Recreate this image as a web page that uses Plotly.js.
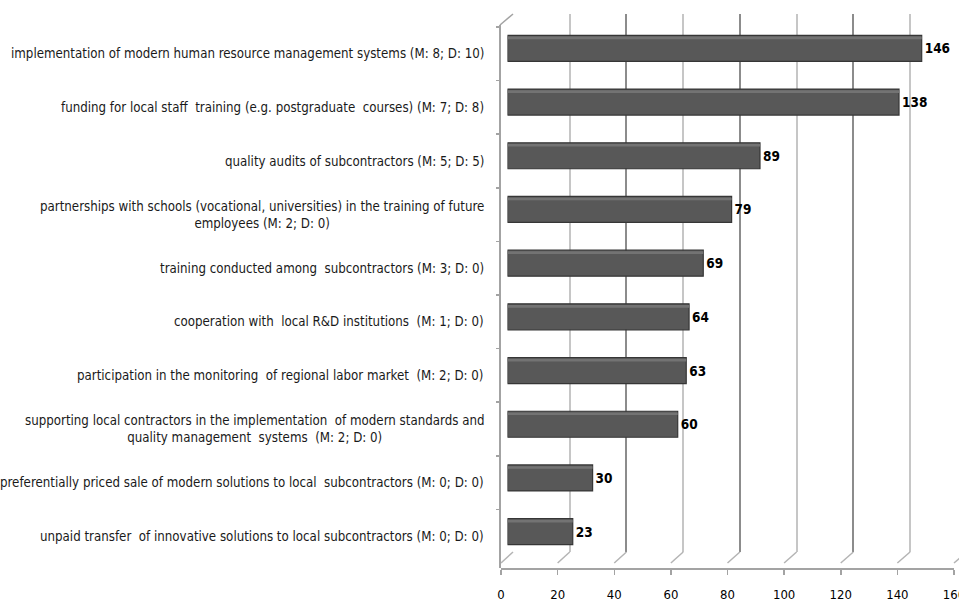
<!DOCTYPE html>
<html>
<head>
<meta charset="utf-8">
<script src="https://cdn.plot.ly/plotly-3.0.1.min.js"></script>
<style>
  html, body { margin: 0; padding: 0; background: #ffffff; }
  #chart { width: 959px; height: 606px; }
</style>
</head>
<body>
<div id="chart"></div>
<script>
// Activities (top to bottom) and number of indications for each
const categories = [
  'implementation of modern human resource management systems (M: 8; D: 10)',
  'funding for local staff  training (e.g. postgraduate  courses) (M: 7; D: 8)',
  'quality audits of subcontractors (M: 5; D: 5)',
  'partnerships with schools (vocational, universities) in the training of future<br>employees (M: 2; D: 0)',
  'training conducted among  subcontractors (M: 3; D: 0)',
  'cooperation with  local R&D institutions  (M: 1; D: 0)',
  'participation in the monitoring  of regional labor market  (M: 2; D: 0)',
  'supporting local contractors in the implementation  of modern standards and<br>quality management  systems  (M: 2; D: 0)',
  'preferentially priced sale of modern solutions to local  subcontractors (M: 0; D: 0)',
  'unpaid transfer  of innovative solutions to local subcontractors (M: 0; D: 0)'
];
const values = [146, 138, 89, 79, 69, 64, 63, 60, 30, 23];

const axisMax = 160;
const axisStep = 20;

// ---- page geometry (pixels) for the pseudo-3D box ----
const W = 959, H = 606;
const px = x => x / W;
const py = y => 1 - y / H;

const FRONT = { x0: 501, x1: 954, floor: 568, top: 25, wallX: 500 };
const BACK = { x0: 513, scale: 2.836, top: 14, floor: 552 };
const BARS = { x0: 507.5, scale: 2.837, top: 21.5, bottom: 558.5 };
const LABELS = { top: 27, bottom: 563, right: 486 };

const frontX = v => FRONT.x0 + v * (FRONT.x1 - FRONT.x0) / axisMax;
const backX = v => BACK.x0 + v * BACK.scale;

const FONT = 'DejaVu Sans Condensed, DejaVu Sans, sans-serif';
const WALL = '#a3a3a3';

// bar thickness as a share of one category slot, and its top bevel strip
const BAR_W = 0.484;
const BEVEL_W = 0.05;

const traces = [
  // back wall grid subplot
  { type: 'scatter', x: [], y: [], xaxis: 'x', yaxis: 'y',
    hoverinfo: 'skip', showlegend: false },
  // bars
  { type: 'bar', orientation: 'h', x: values, y: categories,
    xaxis: 'x2', yaxis: 'y2', width: BAR_W, offset: -BAR_W / 2,
    marker: { color: '#585858', line: { color: '#363636', width: 1.2 } },
    text: values.map(String), textposition: 'outside', cliponaxis: false,
    textfont: { family: FONT, size: 13.5, color: '#000000', weight: 'bold' },
    hoverinfo: 'skip', showlegend: false },
  // lighter top bevel of each bar
  { type: 'bar', orientation: 'h', x: values, y: categories,
    xaxis: 'x2', yaxis: 'y2', width: BEVEL_W, offset: -BAR_W / 2 + 0.022,
    marker: { color: '#737373', line: { width: 0 } },
    hoverinfo: 'skip', showlegend: false },
  // front axis / category positions
  { type: 'scatter', mode: 'markers', x: values, y: categories,
    xaxis: 'x3', yaxis: 'y3', marker: { opacity: 0, size: 1 },
    hoverinfo: 'skip', showlegend: false }
];

// floor lines running from the front axis ticks to the back wall
const shapes = [];
for (let v = 0; v <= axisMax; v += axisStep) {
  shapes.push({
    type: 'line', xref: 'paper', yref: 'paper',
    x0: px(frontX(v)), y0: py(FRONT.floor - 5),
    x1: px(backX(v)), y1: py(BACK.floor),
    line: { color: '#b4b4b4', width: 1.5 }
  });
}
// left side wall edges
shapes.push({
  type: 'line', xref: 'paper', yref: 'paper',
  x0: px(FRONT.wallX), y0: py(FRONT.top), x1: px(FRONT.wallX), y1: py(FRONT.floor),
  line: { color: WALL, width: 2 }
});
shapes.push({
  type: 'line', xref: 'paper', yref: 'paper',
  x0: px(FRONT.wallX), y0: py(FRONT.top), x1: px(BACK.x0), y1: py(BACK.top),
  line: { color: WALL, width: 1.5 }
});

const annotations = categories.map(c => ({
  xref: 'paper', yref: 'y3', x: px(LABELS.right), y: c,
  xanchor: 'right', yanchor: 'middle', align: 'center',
  text: c, showarrow: false,
  font: { family: FONT, size: 13.2, color: '#1a1a1a' }
}));

const layout = {
  width: W, height: H,
  margin: { l: 0, r: 0, t: 0, b: 0, pad: 0 },
  paper_bgcolor: '#ffffff', plot_bgcolor: 'rgba(0,0,0,0)',
  showlegend: false, hovermode: false,
  barmode: 'overlay',
  font: { family: FONT, size: 13, color: '#000000' },
  // back wall gridlines
  xaxis: {
    domain: [px(BACK.x0), 1], range: [0, (W - BACK.x0) / BACK.scale],
    anchor: 'y', showticklabels: false, ticks: '', zeroline: false, showline: false,
    tick0: 0, dtick: 40, showgrid: true, gridcolor: '#8c8c8c', gridwidth: 2,
    minor: { tick0: 0, dtick: 20, showgrid: true, gridcolor: '#c6c6c6', gridwidth: 2 }
  },
  yaxis: {
    domain: [py(BACK.floor), py(BACK.top)], range: [0, 1], anchor: 'x',
    visible: false, showgrid: false, zeroline: false
  },
  // bars
  xaxis2: {
    domain: [px(BARS.x0), 1], range: [0, (W - BARS.x0) / BARS.scale],
    anchor: 'y2', visible: false, showgrid: false, zeroline: false
  },
  yaxis2: {
    type: 'category', domain: [py(BARS.bottom), py(BARS.top)], range: [9.5, -0.5],
    anchor: 'x2', visible: false, showgrid: false
  },
  // front value axis
  xaxis3: {
    domain: [px(FRONT.x0), px(FRONT.x1)], range: [0, axisMax],
    anchor: 'free', position: py(FRONT.floor),
    showgrid: false, zeroline: false,
    showline: true, linecolor: WALL, linewidth: 1.5,
    ticks: 'outside', ticklen: 5, tickcolor: WALL, tickwidth: 1.5,
    tickmode: 'linear', tick0: 0, dtick: axisStep,
    ticklabelstandoff: 9, ticklabeloverflow: 'allow',
    tickfont: { family: FONT, size: 13, color: '#000000' }
  },
  // category axis (ticks between categories, labels as annotations)
  yaxis3: {
    type: 'category', domain: [py(LABELS.bottom), py(LABELS.top)], range: [9.5, -0.5],
    anchor: 'x3', showgrid: false, zeroline: false, showline: false,
    showticklabels: false, tickson: 'boundaries',
    ticks: 'outside', ticklen: 4, tickcolor: WALL, tickwidth: 1.5
  },
  shapes: shapes,
  annotations: annotations
};

Plotly.newPlot('chart', traces, layout, { displayModeBar: false, staticPlot: true });
</script>
</body>
</html>
